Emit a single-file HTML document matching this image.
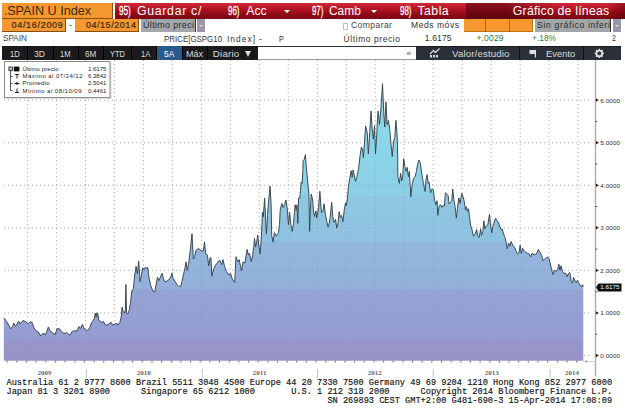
<!DOCTYPE html>
<html><head><meta charset="utf-8"><style>
html,body{margin:0;padding:0;background:#fff;}
body{width:625px;height:411px;overflow:hidden;position:relative;font-family:"Liberation Sans",sans-serif;}
.a{position:absolute;white-space:nowrap;}
.or{background:#f5982f;border-right:1px solid #8a4f10;border-bottom:1px solid #8a4f10;box-sizing:border-box;}
</style></head><body>
<!-- row 1 -->
<div class="a" style="left:115px;top:3px;width:510px;height:15.5px;background:linear-gradient(#cf2a3a 0%,#be1a2a 25%,#a80f1e 50%,#8a0a16 75%,#7a0812 100%);"></div>
<div class="a" style="left:466px;top:3px;width:159px;height:15.5px;background:linear-gradient(90deg,rgba(70,0,6,.55) 0,rgba(70,0,6,.5) 24%,rgba(70,0,6,0) 58%,rgba(70,0,6,0) 88%,rgba(70,0,6,.4) 100%);"></div>
<div class="a or" style="left:2px;top:3px;width:110.5px;height:16.2px;border-bottom-width:1.5px;"></div>
<div class="a" style="left:284px;top:9.5px;width:0;height:0;border-left:3px solid transparent;border-right:3px solid transparent;border-top:3.5px solid #fff;"></div>
<div class="a" style="left:371px;top:9.5px;width:0;height:0;border-left:3px solid transparent;border-right:3px solid transparent;border-top:3.5px solid #fff;"></div>
<!-- row 2 -->
<div class="a or" style="left:2px;top:19px;width:64px;height:13px;"></div>
<div class="a or" style="left:75px;top:19px;width:63.5px;height:13px;"></div>
<div class="a" style="left:141px;top:19.3px;width:54.5px;height:12.6px;background:#a3a6ab;border-right:1.5px solid #333;box-sizing:border-box;"></div>
<div class="a" style="left:197px;top:19.3px;width:8px;height:12.6px;background:#9a98a6;"></div>
<div class="a" style="left:199px;top:24.5px;width:0;height:0;border-left:2px solid transparent;border-right:2px solid transparent;border-top:2.5px solid #ddd;"></div>
<div class="a" style="left:342.5px;top:22.5px;width:3.5px;height:5px;border:1px solid #c4c4c4;"></div>
<div class="a or" style="left:464px;top:19px;width:69px;height:13px;border-color:#c07418;"></div>
<div class="a" style="left:485px;top:19px;width:1px;height:13px;background:#a8620f;"></div>
<div class="a" style="left:509px;top:19px;width:1px;height:13px;background:#a8620f;"></div>
<div class="a" style="left:535px;top:19.3px;width:76px;height:12.6px;background:#a3a6ab;border-right:1.5px solid #333;box-sizing:border-box;"></div>
<div class="a" style="left:612.5px;top:19.3px;width:8px;height:12.6px;background:#9a98a6;"></div>
<div class="a" style="left:614.5px;top:24.5px;width:0;height:0;border-left:2px solid transparent;border-right:2px solid transparent;border-top:2.5px solid #ddd;"></div>
<!-- toolbar -->
<div class="a" style="left:2px;top:46px;width:255.5px;height:14px;background:#1b1b1d;"></div>
<div class="a" style="left:156.5px;top:46px;width:25px;height:14px;background:#2a5a8c;"></div>
<div class="a" style="left:257.5px;top:46px;width:158.5px;height:14px;background:#fff;border-top:1.5px solid #333;border-bottom:1px solid #999;box-sizing:border-box;"></div>
<div class="a" style="left:416px;top:46px;width:205px;height:14px;background:#2b2f37;border-top:1px solid #1a1c20;box-sizing:border-box;"></div>
<div class="a" style="left:406.5px;top:48.5px;font-size:8px;line-height:9px;color:#444;">«</div>
<div class="a" style="left:27px;top:46px;width:1px;height:14px;background:#000;"></div><div class="a" style="left:52.5px;top:46px;width:1px;height:14px;background:#000;"></div><div class="a" style="left:78px;top:46px;width:1px;height:14px;background:#000;"></div><div class="a" style="left:103px;top:46px;width:1px;height:14px;background:#000;"></div><div class="a" style="left:130.5px;top:46px;width:1px;height:14px;background:#000;"></div><div class="a" style="left:156px;top:46px;width:1px;height:14px;background:#000;"></div><div class="a" style="left:181.5px;top:46px;width:1px;height:14px;background:#000;"></div><div class="a" style="left:207px;top:46px;width:1px;height:14px;background:#000;"></div>
<div class="a" style="left:519px;top:46px;width:1px;height:14px;background:#111;"></div>
<div class="a" style="left:583px;top:46px;width:1px;height:14px;background:#111;"></div>
<div class="a" style="left:245px;top:50.5px;width:0;height:0;border-left:3.5px solid transparent;border-right:3.5px solid transparent;border-top:6px solid #dcdcdc;"></div>

<svg class="a" style="left:0;top:0;" width="625" height="411" viewBox="0 0 625 411">
<defs>
<linearGradient id="g" gradientUnits="userSpaceOnUse" x1="0" y1="80" x2="0" y2="361"><stop offset="0.0014" stop-color="#8bd8ea"/><stop offset="0.2370" stop-color="#8bd7e9"/><stop offset="0.2399" stop-color="#8cd4e8"/><stop offset="0.4096" stop-color="#8cd0e6"/><stop offset="0.4125" stop-color="#8ec8e2"/><stop offset="0.5737" stop-color="#8fc1e0"/><stop offset="0.5765" stop-color="#92b7dd"/><stop offset="0.7434" stop-color="#93afda"/><stop offset="0.7463" stop-color="#94a3d5"/><stop offset="0.9203" stop-color="#959cd1"/><stop offset="0.9231" stop-color="#9896cb"/><stop offset="0.9986" stop-color="#9993c9"/></linearGradient>
</defs>
<g stroke="#d8d5c4" stroke-width="1" stroke-dasharray="1.2,2.8" fill="none"><line x1="27.5" y1="60" x2="27.5" y2="361"/><line x1="56.5" y1="60" x2="56.5" y2="361"/><line x1="85.5" y1="60" x2="85.5" y2="361"/><line x1="114.4" y1="60" x2="114.4" y2="361"/><line x1="143.4" y1="60" x2="143.4" y2="361"/><line x1="172.4" y1="60" x2="172.4" y2="361"/><line x1="201.4" y1="60" x2="201.4" y2="361"/><line x1="230.4" y1="60" x2="230.4" y2="361"/><line x1="259.3" y1="60" x2="259.3" y2="361"/><line x1="288.3" y1="60" x2="288.3" y2="361"/><line x1="317.3" y1="60" x2="317.3" y2="361"/><line x1="346.3" y1="60" x2="346.3" y2="361"/><line x1="375.3" y1="60" x2="375.3" y2="361"/><line x1="404.2" y1="60" x2="404.2" y2="361"/><line x1="433.2" y1="60" x2="433.2" y2="361"/><line x1="462.2" y1="60" x2="462.2" y2="361"/><line x1="491.2" y1="60" x2="491.2" y2="361"/><line x1="520.2" y1="60" x2="520.2" y2="361"/><line x1="549.1" y1="60" x2="549.1" y2="361"/><line x1="578.1" y1="60" x2="578.1" y2="361"/><line x1="4" y1="355.5" x2="592" y2="355.5"/><line x1="4" y1="312.9" x2="592" y2="312.9"/><line x1="4" y1="270.4" x2="592" y2="270.4"/><line x1="4" y1="227.8" x2="592" y2="227.8"/><line x1="4" y1="185.3" x2="592" y2="185.3"/><line x1="4" y1="142.7" x2="592" y2="142.7"/><line x1="4" y1="100.1" x2="592" y2="100.1"/></g>
<path d="M3.8,360.8 L3.8,317.9 L6.4,321.1 L9.0,325.6 L10.5,328.8 L12.8,326.2 L13.8,323.0 L15.1,326.2 L16.6,325.0 L18.6,321.1 L19.8,323.7 L21.1,323.0 L23.0,320.5 L25.6,321.8 L28.2,323.7 L30.1,321.8 L32.0,322.4 L33.9,327.5 L35.9,330.7 L38.4,332.0 L40.7,335.9 L42.9,333.3 L45.5,334.6 L48.4,326.9 L49.9,330.7 L52.5,332.7 L55.1,334.6 L57.0,328.8 L59.5,328.8 L61.5,331.4 L64.0,333.5 L66.6,332.7 L69.8,335.2 L72.3,331.4 L74.9,330.7 L77.0,331.2 L79.0,326.5 L80.4,328.5 L82.4,324.5 L83.7,327.8 L85.7,329.8 L87.7,330.5 L89.7,327.8 L91.7,322.5 L93.1,320.5 L94.4,318.4 L95.3,313.1 L96.1,317.1 L96.8,313.1 L97.7,313.1 L98.8,319.8 L100.4,321.8 L102.4,322.5 L103.4,321.1 L105.1,324.5 L107.1,325.1 L109.1,323.8 L110.9,322.2 L112.5,324.9 L115.1,324.1 L116.5,323.1 L117.8,325.1 L119.8,322.5 L121.2,317.1 L122.1,307.1 L123.2,311.8 L124.5,313.1 L125.4,309.7 L125.9,284.5 L126.5,313.1 L127.8,313.8 L129.2,310.4 L130.5,302.4 L131.9,291.0 L133.4,288.5 L134.7,275.1 L136.1,266.4 L137.4,273.8 L138.7,261.1 L140.1,281.8 L141.4,275.1 L142.7,267.8 L144.1,269.8 L145.4,267.1 L146.8,268.4 L147.7,267.1 L149.0,277.8 L150.8,285.8 L152.8,291.0 L154.8,291.5 L156.1,284.5 L157.5,277.1 L158.8,280.5 L160.1,277.8 L162.1,273.1 L163.5,279.1 L164.8,281.8 L166.8,281.2 L168.8,279.8 L170.8,277.1 L171.9,273.1 L172.8,277.8 L174.9,281.2 L176.9,284.5 L178.9,286.5 L180.9,285.8 L182.2,280.5 L183.6,273.8 L184.9,268.4 L186.0,261.8 L187.3,270.5 L188.9,261.8 L190.0,252.5 L192.0,233.7 L193.4,259.1 L194.7,256.5 L196.0,250.5 L198.0,248.4 L200.0,249.8 L202.0,251.1 L203.4,250.5 L204.5,241.8 L205.7,253.8 L207.4,255.1 L208.7,265.8 L210.1,257.8 L211.0,257.8 L211.8,276.2 L213.8,268.4 L216.7,263.5 L219.6,260.1 L221.6,264.5 L223.0,259.6 L224.5,266.4 L226.4,271.3 L228.9,275.2 L230.5,273.2 L232.3,279.1 L234.7,282.5 L236.0,256.7 L237.6,262.0 L239.1,259.6 L241.5,270.8 L243.0,262.0 L244.9,263.0 L247.1,249.4 L248.3,254.7 L249.3,253.3 L251.3,261.6 L252.7,254.7 L253.7,247.1 L254.5,238.4 L255.6,247.1 L256.9,240.4 L257.8,235.1 L258.7,244.8 L260.1,254.1 L261.4,236.8 L262.4,212.5 L263.3,216.8 L264.6,198.1 L266.4,234.1 L267.5,215.5 L269.0,196.8 L270.0,186.1 L271.1,203.4 L271.7,235.4 L273.1,242.1 L274.4,232.7 L276.4,236.1 L278.4,232.7 L279.5,224.7 L280.2,210.1 L281.8,203.4 L283.1,207.5 L284.4,204.8 L286.0,200.1 L287.4,210.1 L288.4,224.7 L289.6,212.5 L290.9,224.7 L292.2,231.4 L293.5,223.4 L294.4,212.7 L295.1,204.8 L296.2,210.1 L297.0,204.8 L297.8,223.4 L298.6,198.0 L299.8,198.1 L301.2,182.0 L302.1,183.4 L302.9,170.0 L303.1,160.6 L304.1,159.6 L305.4,154.7 L306.1,164.5 L307.0,174.2 L308.0,185.0 L309.0,195.4 L309.6,231.4 L310.3,212.0 L311.2,194.1 L312.5,198.8 L313.6,212.0 L314.5,216.5 L315.9,211.0 L316.8,218.0 L318.5,207.5 L319.9,191.4 L320.6,202.0 L321.5,212.5 L322.9,211.6 L324.1,203.8 L325.4,214.5 L326.8,221.3 L328.0,227.1 L329.3,223.2 L330.2,217.4 L331.7,202.3 L332.7,216.4 L334.1,222.3 L335.6,219.3 L336.7,228.1 L338.0,223.2 L339.2,211.6 L340.4,217.4 L341.6,215.4 L342.9,221.8 L344.3,209.6 L345.5,202.8 L346.3,205.7 L347.3,199.9 L348.4,186.8 L349.7,178.7 L351.1,170.7 L352.2,177.4 L353.1,170.0 L354.2,174.7 L355.5,181.4 L357.1,176.1 L358.4,169.4 L359.4,162.0 L360.1,155.1 L361.4,147.1 L362.7,149.8 L363.4,157.8 L364.7,139.1 L365.6,126.0 L367.2,132.4 L368.4,153.8 L369.7,132.4 L371.0,111.1 L372.1,128.4 L373.4,139.1 L374.5,125.7 L375.5,153.8 L376.8,133.7 L377.5,119.1 L378.1,111.1 L379.5,124.5 L380.8,109.8 L382.5,83.7 L383.9,115.1 L384.8,127.0 L385.9,101.8 L387.1,124.5 L388.4,120.5 L389.8,129.7 L390.8,141.8 L392.2,156.5 L393.5,141.8 L394.8,137.7 L395.9,120.4 L396.9,132.4 L397.5,144.4 L397.9,176.8 L399.3,183.4 L400.6,173.4 L401.7,180.8 L402.6,178.1 L403.7,158.7 L405.0,167.4 L406.1,171.4 L407.3,167.4 L408.4,176.8 L409.4,171.4 L410.8,196.8 L412.1,184.8 L413.7,178.1 L415.1,176.8 L416.4,171.4 L417.7,163.4 L419.1,160.0 L420.4,163.4 L421.8,174.1 L423.4,183.4 L425.1,191.5 L426.0,179.4 L427.1,174.7 L428.2,183.4 L429.1,182.1 L430.5,192.8 L432.2,188.8 L433.3,190.0 L434.7,200.7 L436.0,204.7 L437.0,200.7 L437.8,215.4 L439.1,206.1 L440.7,204.7 L442.0,207.4 L443.4,205.4 L444.4,206.1 L445.4,192.7 L446.7,194.0 L448.1,195.4 L449.0,204.0 L450.7,202.0 L451.8,200.7 L452.7,189.0 L453.8,199.4 L455.2,207.4 L456.4,218.1 L457.4,208.7 L458.8,198.0 L460.1,203.4 L461.7,193.3 L462.8,196.0 L464.1,200.7 L465.5,210.1 L466.4,206.7 L467.5,211.4 L468.5,208.7 L469.5,216.8 L470.8,226.1 L472.1,230.1 L473.5,236.2 L475.2,234.1 L476.6,229.5 L477.9,236.2 L479.2,237.5 L480.6,228.8 L481.5,235.5 L482.8,231.5 L483.9,220.8 L484.8,228.8 L486.2,226.1 L487.8,224.8 L489.5,214.1 L490.5,224.8 L491.8,232.8 L492.9,226.1 L494.2,222.1 L495.6,218.1 L496.9,220.8 L498.2,222.1 L499.6,226.1 L500.9,229.5 L502.2,228.8 L503.6,234.1 L504.6,236.5 L505.8,240.8 L507.3,248.9 L508.5,243.0 L509.9,246.0 L511.0,241.6 L512.9,245.2 L514.6,247.4 L516.1,251.1 L517.8,254.0 L519.0,252.5 L520.2,245.2 L521.2,253.3 L522.6,248.2 L524.1,251.1 L526.0,252.5 L527.8,253.3 L529.2,254.0 L530.7,256.9 L532.1,253.3 L534.3,254.7 L536.5,254.0 L538.3,249.6 L540.2,252.5 L541.6,255.5 L543.1,260.6 L545.3,258.4 L547.5,256.9 L548.9,258.4 L550.4,264.2 L551.9,270.8 L552.9,274.5 L554.4,270.1 L556.3,271.5 L557.7,269.3 L558.9,264.2 L559.9,270.1 L561.1,265.7 L562.5,271.5 L564.0,273.7 L565.5,273.0 L566.9,276.6 L568.4,273.7 L569.8,272.3 L571.3,281.8 L572.6,283.2 L573.5,277.4 L574.8,280.3 L576.3,282.5 L577.4,280.3 L578.9,283.2 L581.1,286.9 L582.6,284.7 L583.3,286.9 L583.3,360.8 Z" fill="url(#g)"/>
<g stroke="#7f86b8" stroke-opacity=".4" stroke-width="1" stroke-dasharray="1.2,2.8" fill="none"><line x1="27.5" y1="60" x2="27.5" y2="361"/><line x1="56.5" y1="60" x2="56.5" y2="361"/><line x1="85.5" y1="60" x2="85.5" y2="361"/><line x1="114.4" y1="60" x2="114.4" y2="361"/><line x1="143.4" y1="60" x2="143.4" y2="361"/><line x1="172.4" y1="60" x2="172.4" y2="361"/><line x1="201.4" y1="60" x2="201.4" y2="361"/><line x1="230.4" y1="60" x2="230.4" y2="361"/><line x1="259.3" y1="60" x2="259.3" y2="361"/><line x1="288.3" y1="60" x2="288.3" y2="361"/><line x1="317.3" y1="60" x2="317.3" y2="361"/><line x1="346.3" y1="60" x2="346.3" y2="361"/><line x1="375.3" y1="60" x2="375.3" y2="361"/><line x1="404.2" y1="60" x2="404.2" y2="361"/><line x1="433.2" y1="60" x2="433.2" y2="361"/><line x1="462.2" y1="60" x2="462.2" y2="361"/><line x1="491.2" y1="60" x2="491.2" y2="361"/><line x1="520.2" y1="60" x2="520.2" y2="361"/><line x1="549.1" y1="60" x2="549.1" y2="361"/><line x1="578.1" y1="60" x2="578.1" y2="361"/><line x1="4" y1="355.5" x2="592" y2="355.5"/><line x1="4" y1="312.9" x2="592" y2="312.9"/><line x1="4" y1="270.4" x2="592" y2="270.4"/><line x1="4" y1="227.8" x2="592" y2="227.8"/><line x1="4" y1="185.3" x2="592" y2="185.3"/><line x1="4" y1="142.7" x2="592" y2="142.7"/><line x1="4" y1="100.1" x2="592" y2="100.1"/></g>
<polyline points="3.8,317.9 6.4,321.1 9.0,325.6 10.5,328.8 12.8,326.2 13.8,323.0 15.1,326.2 16.6,325.0 18.6,321.1 19.8,323.7 21.1,323.0 23.0,320.5 25.6,321.8 28.2,323.7 30.1,321.8 32.0,322.4 33.9,327.5 35.9,330.7 38.4,332.0 40.7,335.9 42.9,333.3 45.5,334.6 48.4,326.9 49.9,330.7 52.5,332.7 55.1,334.6 57.0,328.8 59.5,328.8 61.5,331.4 64.0,333.5 66.6,332.7 69.8,335.2 72.3,331.4 74.9,330.7 77.0,331.2 79.0,326.5 80.4,328.5 82.4,324.5 83.7,327.8 85.7,329.8 87.7,330.5 89.7,327.8 91.7,322.5 93.1,320.5 94.4,318.4 95.3,313.1 96.1,317.1 96.8,313.1 97.7,313.1 98.8,319.8 100.4,321.8 102.4,322.5 103.4,321.1 105.1,324.5 107.1,325.1 109.1,323.8 110.9,322.2 112.5,324.9 115.1,324.1 116.5,323.1 117.8,325.1 119.8,322.5 121.2,317.1 122.1,307.1 123.2,311.8 124.5,313.1 125.4,309.7 125.9,284.5 126.5,313.1 127.8,313.8 129.2,310.4 130.5,302.4 131.9,291.0 133.4,288.5 134.7,275.1 136.1,266.4 137.4,273.8 138.7,261.1 140.1,281.8 141.4,275.1 142.7,267.8 144.1,269.8 145.4,267.1 146.8,268.4 147.7,267.1 149.0,277.8 150.8,285.8 152.8,291.0 154.8,291.5 156.1,284.5 157.5,277.1 158.8,280.5 160.1,277.8 162.1,273.1 163.5,279.1 164.8,281.8 166.8,281.2 168.8,279.8 170.8,277.1 171.9,273.1 172.8,277.8 174.9,281.2 176.9,284.5 178.9,286.5 180.9,285.8 182.2,280.5 183.6,273.8 184.9,268.4 186.0,261.8 187.3,270.5 188.9,261.8 190.0,252.5 192.0,233.7 193.4,259.1 194.7,256.5 196.0,250.5 198.0,248.4 200.0,249.8 202.0,251.1 203.4,250.5 204.5,241.8 205.7,253.8 207.4,255.1 208.7,265.8 210.1,257.8 211.0,257.8 211.8,276.2 213.8,268.4 216.7,263.5 219.6,260.1 221.6,264.5 223.0,259.6 224.5,266.4 226.4,271.3 228.9,275.2 230.5,273.2 232.3,279.1 234.7,282.5 236.0,256.7 237.6,262.0 239.1,259.6 241.5,270.8 243.0,262.0 244.9,263.0 247.1,249.4 248.3,254.7 249.3,253.3 251.3,261.6 252.7,254.7 253.7,247.1 254.5,238.4 255.6,247.1 256.9,240.4 257.8,235.1 258.7,244.8 260.1,254.1 261.4,236.8 262.4,212.5 263.3,216.8 264.6,198.1 266.4,234.1 267.5,215.5 269.0,196.8 270.0,186.1 271.1,203.4 271.7,235.4 273.1,242.1 274.4,232.7 276.4,236.1 278.4,232.7 279.5,224.7 280.2,210.1 281.8,203.4 283.1,207.5 284.4,204.8 286.0,200.1 287.4,210.1 288.4,224.7 289.6,212.5 290.9,224.7 292.2,231.4 293.5,223.4 294.4,212.7 295.1,204.8 296.2,210.1 297.0,204.8 297.8,223.4 298.6,198.0 299.8,198.1 301.2,182.0 302.1,183.4 302.9,170.0 303.1,160.6 304.1,159.6 305.4,154.7 306.1,164.5 307.0,174.2 308.0,185.0 309.0,195.4 309.6,231.4 310.3,212.0 311.2,194.1 312.5,198.8 313.6,212.0 314.5,216.5 315.9,211.0 316.8,218.0 318.5,207.5 319.9,191.4 320.6,202.0 321.5,212.5 322.9,211.6 324.1,203.8 325.4,214.5 326.8,221.3 328.0,227.1 329.3,223.2 330.2,217.4 331.7,202.3 332.7,216.4 334.1,222.3 335.6,219.3 336.7,228.1 338.0,223.2 339.2,211.6 340.4,217.4 341.6,215.4 342.9,221.8 344.3,209.6 345.5,202.8 346.3,205.7 347.3,199.9 348.4,186.8 349.7,178.7 351.1,170.7 352.2,177.4 353.1,170.0 354.2,174.7 355.5,181.4 357.1,176.1 358.4,169.4 359.4,162.0 360.1,155.1 361.4,147.1 362.7,149.8 363.4,157.8 364.7,139.1 365.6,126.0 367.2,132.4 368.4,153.8 369.7,132.4 371.0,111.1 372.1,128.4 373.4,139.1 374.5,125.7 375.5,153.8 376.8,133.7 377.5,119.1 378.1,111.1 379.5,124.5 380.8,109.8 382.5,83.7 383.9,115.1 384.8,127.0 385.9,101.8 387.1,124.5 388.4,120.5 389.8,129.7 390.8,141.8 392.2,156.5 393.5,141.8 394.8,137.7 395.9,120.4 396.9,132.4 397.5,144.4 397.9,176.8 399.3,183.4 400.6,173.4 401.7,180.8 402.6,178.1 403.7,158.7 405.0,167.4 406.1,171.4 407.3,167.4 408.4,176.8 409.4,171.4 410.8,196.8 412.1,184.8 413.7,178.1 415.1,176.8 416.4,171.4 417.7,163.4 419.1,160.0 420.4,163.4 421.8,174.1 423.4,183.4 425.1,191.5 426.0,179.4 427.1,174.7 428.2,183.4 429.1,182.1 430.5,192.8 432.2,188.8 433.3,190.0 434.7,200.7 436.0,204.7 437.0,200.7 437.8,215.4 439.1,206.1 440.7,204.7 442.0,207.4 443.4,205.4 444.4,206.1 445.4,192.7 446.7,194.0 448.1,195.4 449.0,204.0 450.7,202.0 451.8,200.7 452.7,189.0 453.8,199.4 455.2,207.4 456.4,218.1 457.4,208.7 458.8,198.0 460.1,203.4 461.7,193.3 462.8,196.0 464.1,200.7 465.5,210.1 466.4,206.7 467.5,211.4 468.5,208.7 469.5,216.8 470.8,226.1 472.1,230.1 473.5,236.2 475.2,234.1 476.6,229.5 477.9,236.2 479.2,237.5 480.6,228.8 481.5,235.5 482.8,231.5 483.9,220.8 484.8,228.8 486.2,226.1 487.8,224.8 489.5,214.1 490.5,224.8 491.8,232.8 492.9,226.1 494.2,222.1 495.6,218.1 496.9,220.8 498.2,222.1 499.6,226.1 500.9,229.5 502.2,228.8 503.6,234.1 504.6,236.5 505.8,240.8 507.3,248.9 508.5,243.0 509.9,246.0 511.0,241.6 512.9,245.2 514.6,247.4 516.1,251.1 517.8,254.0 519.0,252.5 520.2,245.2 521.2,253.3 522.6,248.2 524.1,251.1 526.0,252.5 527.8,253.3 529.2,254.0 530.7,256.9 532.1,253.3 534.3,254.7 536.5,254.0 538.3,249.6 540.2,252.5 541.6,255.5 543.1,260.6 545.3,258.4 547.5,256.9 548.9,258.4 550.4,264.2 551.9,270.8 552.9,274.5 554.4,270.1 556.3,271.5 557.7,269.3 558.9,264.2 559.9,270.1 561.1,265.7 562.5,271.5 564.0,273.7 565.5,273.0 566.9,276.6 568.4,273.7 569.8,272.3 571.3,281.8 572.6,283.2 573.5,277.4 574.8,280.3 576.3,282.5 577.4,280.3 578.9,283.2 581.1,286.9 582.6,284.7 583.3,286.9" fill="none" stroke="#35424b" stroke-width="0.95" stroke-linejoin="round"/>
<line x1="595.5" y1="60" x2="595.5" y2="376" stroke="#b0b0b0" stroke-width="1.5"/>
<line x1="583" y1="361.5" x2="596" y2="361.5" stroke="#d0d0d0" stroke-width="1"/>
<g stroke="#7880ac" stroke-width="1.2"><line x1="7.2" y1="360.5" x2="7.2" y2="362.6"/><line x1="16.9" y1="360.5" x2="16.9" y2="362.6"/><line x1="26.5" y1="360.5" x2="26.5" y2="362.6"/><line x1="36.2" y1="360.5" x2="36.2" y2="362.6"/><line x1="45.8" y1="360.5" x2="45.8" y2="362.6"/><line x1="55.5" y1="360.5" x2="55.5" y2="362.6"/><line x1="65.1" y1="360.5" x2="65.1" y2="362.6"/><line x1="74.8" y1="360.5" x2="74.8" y2="362.6"/><line x1="84.4" y1="360.5" x2="84.4" y2="362.6"/><line x1="94.1" y1="360.5" x2="94.1" y2="362.6"/><line x1="103.7" y1="360.5" x2="103.7" y2="362.6"/><line x1="113.4" y1="360.5" x2="113.4" y2="362.6"/><line x1="123.0" y1="360.5" x2="123.0" y2="362.6"/><line x1="132.7" y1="360.5" x2="132.7" y2="362.6"/><line x1="142.3" y1="360.5" x2="142.3" y2="362.6"/><line x1="152.0" y1="360.5" x2="152.0" y2="362.6"/><line x1="161.6" y1="360.5" x2="161.6" y2="362.6"/><line x1="171.3" y1="360.5" x2="171.3" y2="362.6"/><line x1="180.9" y1="360.5" x2="180.9" y2="362.6"/><line x1="190.6" y1="360.5" x2="190.6" y2="362.6"/><line x1="200.2" y1="360.5" x2="200.2" y2="362.6"/><line x1="209.9" y1="360.5" x2="209.9" y2="362.6"/><line x1="219.5" y1="360.5" x2="219.5" y2="362.6"/><line x1="229.2" y1="360.5" x2="229.2" y2="362.6"/><line x1="238.8" y1="360.5" x2="238.8" y2="362.6"/><line x1="248.5" y1="360.5" x2="248.5" y2="362.6"/><line x1="258.1" y1="360.5" x2="258.1" y2="362.6"/><line x1="267.8" y1="360.5" x2="267.8" y2="362.6"/><line x1="277.4" y1="360.5" x2="277.4" y2="362.6"/><line x1="287.1" y1="360.5" x2="287.1" y2="362.6"/><line x1="296.7" y1="360.5" x2="296.7" y2="362.6"/><line x1="306.4" y1="360.5" x2="306.4" y2="362.6"/><line x1="316.0" y1="360.5" x2="316.0" y2="362.6"/><line x1="325.7" y1="360.5" x2="325.7" y2="362.6"/><line x1="335.3" y1="360.5" x2="335.3" y2="362.6"/><line x1="345.0" y1="360.5" x2="345.0" y2="362.6"/><line x1="354.6" y1="360.5" x2="354.6" y2="362.6"/><line x1="364.3" y1="360.5" x2="364.3" y2="362.6"/><line x1="373.9" y1="360.5" x2="373.9" y2="362.6"/><line x1="383.6" y1="360.5" x2="383.6" y2="362.6"/><line x1="393.2" y1="360.5" x2="393.2" y2="362.6"/><line x1="402.9" y1="360.5" x2="402.9" y2="362.6"/><line x1="412.5" y1="360.5" x2="412.5" y2="362.6"/><line x1="422.2" y1="360.5" x2="422.2" y2="362.6"/><line x1="431.8" y1="360.5" x2="431.8" y2="362.6"/><line x1="441.5" y1="360.5" x2="441.5" y2="362.6"/><line x1="451.1" y1="360.5" x2="451.1" y2="362.6"/><line x1="460.8" y1="360.5" x2="460.8" y2="362.6"/><line x1="470.4" y1="360.5" x2="470.4" y2="362.6"/><line x1="480.1" y1="360.5" x2="480.1" y2="362.6"/><line x1="489.7" y1="360.5" x2="489.7" y2="362.6"/><line x1="499.4" y1="360.5" x2="499.4" y2="362.6"/><line x1="509.0" y1="360.5" x2="509.0" y2="362.6"/><line x1="518.7" y1="360.5" x2="518.7" y2="362.6"/><line x1="528.3" y1="360.5" x2="528.3" y2="362.6"/><line x1="538.0" y1="360.5" x2="538.0" y2="362.6"/><line x1="547.6" y1="360.5" x2="547.6" y2="362.6"/><line x1="557.3" y1="360.5" x2="557.3" y2="362.6"/><line x1="566.9" y1="360.5" x2="566.9" y2="362.6"/><line x1="576.6" y1="360.5" x2="576.6" y2="362.6"/><line x1="586.2" y1="360.5" x2="586.2" y2="362.6"/></g>
<g stroke="#c2c2c2" stroke-width="1"><line x1="86.4" y1="369" x2="86.4" y2="378"/><line x1="202.3" y1="369" x2="202.3" y2="378"/><line x1="317.6" y1="369" x2="317.6" y2="378"/><line x1="433.2" y1="369" x2="433.2" y2="378"/><line x1="550" y1="369" x2="550" y2="378"/></g>
<path d="M595.8 353.8 L599 355.5 L595.8 357.2 Z" fill="#222"/><path d="M595.8 311.2 L599 312.9 L595.8 314.6 Z" fill="#222"/><path d="M595.8 268.7 L599 270.4 L595.8 272.1 Z" fill="#222"/><path d="M595.8 226.1 L599 227.8 L595.8 229.5 Z" fill="#222"/><path d="M595.8 183.6 L599 185.3 L595.8 187.0 Z" fill="#222"/><path d="M595.8 141.0 L599 142.7 L595.8 144.4 Z" fill="#222"/><path d="M595.8 98.4 L599 100.1 L595.8 101.8 Z" fill="#222"/><rect x="595" y="333.7" width="2.5" height="1" fill="#666"/><rect x="595" y="291.2" width="2.5" height="1" fill="#666"/><rect x="595" y="248.6" width="2.5" height="1" fill="#666"/><rect x="595" y="206.0" width="2.5" height="1" fill="#666"/><rect x="595" y="163.5" width="2.5" height="1" fill="#666"/><rect x="595" y="120.9" width="2.5" height="1" fill="#666"/>
<path d="M596 287.3 L598.5 283.4 H621.5 V291.4 H598.5 Z" fill="#101010"/>
<!-- legend -->
<rect x="5.5" y="63" width="106" height="36" fill="#ddd"/>
<rect x="4.5" y="61.5" width="105.5" height="36" fill="#fff" stroke="#8a8a8a" stroke-width="1"/>
<rect x="13.8" y="66.6" width="5.6" height="4.8" fill="#111"/>
<rect x="8.9" y="67" width="3.6" height="3.6" fill="#bbb" stroke="#444" stroke-width="1"/>
<path d="M10.5 71 V90.5 H12.5 M10.5 76.5 H12.5 M10.5 83.5 H12.5" stroke="#555" fill="none" stroke-width="1"/>
<path d="M15.3 74.5h3.6M17 74.5v4 M14.3 83.5h5.2 M15 92.5h4M17 92.5v-4" stroke="#222" fill="none" stroke-width="1"/><circle cx="17" cy="83.5" r="1.2" fill="#222"/>
<!-- toolbar icons -->
<g fill="#d8d8d8" stroke="none"><rect x="430" y="55" width="2" height="2.5"/><rect x="433" y="55" width="2" height="2.5"/><rect x="436" y="55" width="2" height="2.5"/></g>
<path d="M430 54 L433.5 50.5 L435.5 52.5 L439.5 48.5" stroke="#d8d8d8" stroke-width="1.3" fill="none"/>
<path d="M529.5 50 H536 V57.5 H534.8 V54 H529.5 Z" fill="#e0e0e0"/>
<g transform="translate(599.3,53.4)"><circle r="2.9" fill="none" stroke="#e0e0e0" stroke-width="1.7"/><g stroke="#e0e0e0" stroke-width="1.5"><line x1="0" y1="-4.6" x2="0" y2="4.6"/><line x1="-4.6" y1="0" x2="4.6" y2="0"/><line x1="-3.3" y1="-3.3" x2="3.3" y2="3.3"/><line x1="-3.3" y1="3.3" x2="3.3" y2="-3.3"/></g><circle r="1.9" fill="#2b2f37"/></g>
</svg>
<div id="t0" class="a" style="left:3.7px;top:3.97px;font-size:12.6px;line-height:15.12px;color:#3a2a10;letter-spacing:0.003px;">.SPAIN U Index</div>
<div id="t1" class="a" style="left:119.4px;top:4.36px;font-size:12.3px;line-height:14.76px;color:#fff;letter-spacing:0.000px;transform:scaleX(0.6636);transform-origin:0 0;-webkit-text-stroke:0.3px #fff;">95)</div>
<div id="t2" class="a" style="left:137.0px;top:4.36px;font-size:12.3px;line-height:14.76px;color:#fff;letter-spacing:0.690px;">Guardar c/</div>
<div id="t3" class="a" style="left:228.2px;top:4.36px;font-size:12.3px;line-height:14.76px;color:#fff;letter-spacing:0.000px;transform:scaleX(0.6467);transform-origin:0 0;-webkit-text-stroke:0.3px #fff;">96)</div>
<div id="t4" class="a" style="left:246.2px;top:4.36px;font-size:12.3px;line-height:14.76px;color:#fff;letter-spacing:0.000px;">Acc</div>
<div id="t5" class="a" style="left:312.3px;top:4.36px;font-size:12.3px;line-height:14.76px;color:#fff;letter-spacing:0.000px;transform:scaleX(0.6355);transform-origin:0 0;-webkit-text-stroke:0.3px #fff;">97)</div>
<div id="t6" class="a" style="left:329.0px;top:4.36px;font-size:12.3px;line-height:14.76px;color:#fff;letter-spacing:0.000px;transform:scaleX(0.9691);transform-origin:0 0;">Camb</div>
<div id="t7" class="a" style="left:400.0px;top:4.36px;font-size:12.3px;line-height:14.76px;color:#fff;letter-spacing:0.000px;transform:scaleX(0.6467);transform-origin:0 0;-webkit-text-stroke:0.3px #fff;">98)</div>
<div id="t8" class="a" style="left:417.4px;top:4.36px;font-size:12.3px;line-height:14.76px;color:#fff;letter-spacing:0.473px;">Tabla</div>
<div id="t9" class="a" style="left:512.8px;top:4.36px;font-size:12.3px;line-height:14.76px;color:#fff;letter-spacing:0.214px;">Gráfico de líneas</div>
<div id="t10" class="a" style="left:11.5px;top:19.88px;font-size:9px;line-height:10.8px;color:#3a2a10;letter-spacing:0.695px;-webkit-text-stroke:0.2px #3a2a10;">04/16/2009</div>
<div id="t11" class="a" style="left:69.0px;top:19.88px;font-size:9px;line-height:10.8px;color:#333;letter-spacing:0.000px;">-</div>
<div id="t12" class="a" style="left:85.9px;top:19.88px;font-size:9px;line-height:10.8px;color:#3a2a10;letter-spacing:0.550px;-webkit-text-stroke:0.2px #3a2a10;">04/15/2014</div>
<div id="t13" class="a" style="left:143.0px;top:20.08px;font-size:9px;line-height:10.8px;color:#2a2a2a;letter-spacing:0.317px;">Último preci</div>
<div id="t14" class="a" style="left:351.0px;top:20.26px;font-size:8.6px;line-height:10.32px;color:#444;letter-spacing:0.397px;">Comparar</div>
<div id="t15" class="a" style="left:411.0px;top:20.26px;font-size:8.6px;line-height:10.32px;color:#333;letter-spacing:0.508px;">Meds móvs</div>
<div id="t16" class="a" style="left:537.0px;top:20.46px;font-size:8.6px;line-height:10.32px;color:#2a2a2a;letter-spacing:0.669px;">Sin gráfico inferi</div>
<div id="t17" class="a" style="left:3.0px;top:32.85px;font-size:8.4px;line-height:10.08px;color:#3a3f48;letter-spacing:0.000px;transform:scaleX(0.9790);transform-origin:0 0;">SPAIN</div>
<div id="t18" class="a" style="left:164.2px;top:33.55px;font-size:8.4px;line-height:10.08px;color:#333;letter-spacing:0.000px;transform:scaleX(0.9454);transform-origin:0 0;">PRICE[GSPG10</div>
<div id="t19" class="a" style="left:226.9px;top:33.55px;font-size:8.4px;line-height:10.08px;color:#333;letter-spacing:1.074px;">Index]</div>
<div id="t20" class="a" style="left:259.0px;top:33.55px;font-size:8.4px;line-height:10.08px;color:#333;letter-spacing:0.000px;">-</div>
<div id="t21" class="a" style="left:279.0px;top:33.55px;font-size:8.4px;line-height:10.08px;color:#333;letter-spacing:0.000px;transform:scaleX(0.8581);transform-origin:0 0;">P</div>
<div id="t22" class="a" style="left:343.6px;top:33.55px;font-size:8.4px;line-height:10.08px;color:#333;letter-spacing:0.627px;">Último precio</div>
<div id="t23" class="a" style="left:424.8px;top:33.36px;font-size:8.6px;line-height:10.32px;color:#333;letter-spacing:0.101px;">1.6175</div>
<div id="t24" class="a" style="left:476.4px;top:33.36px;font-size:8.6px;line-height:10.32px;color:#2f7d3a;letter-spacing:0.134px;">+.0029</div>
<div id="t25" class="a" style="left:531.9px;top:33.36px;font-size:8.6px;line-height:10.32px;color:#2f7d3a;letter-spacing:0.000px;transform:scaleX(0.9752);transform-origin:0 0;">+.18%</div>
<div id="t26" class="a" style="left:611.5px;top:33.36px;font-size:8.6px;line-height:10.32px;color:#333;letter-spacing:0.000px;transform:scaleX(0.8157);transform-origin:0 0;">2</div>
<div id="t27" class="a" style="left:10.0px;top:47.92px;font-size:9.7px;line-height:11.64px;color:#dcdcdc;letter-spacing:0.000px;transform:scaleX(0.7909);transform-origin:0 0;">1D</div>
<div id="t28" class="a" style="left:34.4px;top:47.92px;font-size:9.7px;line-height:11.64px;color:#dcdcdc;letter-spacing:0.000px;transform:scaleX(0.8878);transform-origin:0 0;">3D</div>
<div id="t29" class="a" style="left:60.4px;top:47.92px;font-size:9.7px;line-height:11.64px;color:#dcdcdc;letter-spacing:0.000px;transform:scaleX(0.7722);transform-origin:0 0;">1M</div>
<div id="t30" class="a" style="left:85.0px;top:47.92px;font-size:9.7px;line-height:11.64px;color:#dcdcdc;letter-spacing:0.000px;transform:scaleX(0.8390);transform-origin:0 0;">6M</div>
<div id="t31" class="a" style="left:110.0px;top:47.92px;font-size:9.7px;line-height:11.64px;color:#dcdcdc;letter-spacing:0.000px;transform:scaleX(0.7742);transform-origin:0 0;">YTD</div>
<div id="t32" class="a" style="left:141.0px;top:47.92px;font-size:9.7px;line-height:11.64px;color:#dcdcdc;letter-spacing:0.000px;transform:scaleX(0.7842);transform-origin:0 0;">1A</div>
<div id="t33" class="a" style="left:163.6px;top:47.92px;font-size:9.7px;line-height:11.64px;color:#fff;letter-spacing:0.000px;transform:scaleX(0.8601);transform-origin:0 0;">5A</div>
<div id="t34" class="a" style="left:186.2px;top:47.92px;font-size:9.7px;line-height:11.64px;color:#dcdcdc;letter-spacing:0.000px;transform:scaleX(0.9338);transform-origin:0 0;">Máx</div>
<div id="t35" class="a" style="left:212.8px;top:47.92px;font-size:9.7px;line-height:11.64px;color:#dcdcdc;letter-spacing:0.217px;">Diario</div>
<div id="t36" class="a" style="left:452.0px;top:47.92px;font-size:9.7px;line-height:11.64px;color:#dcdcdc;letter-spacing:0.139px;">Valor/estudio</div>
<div id="t37" class="a" style="left:545.7px;top:47.92px;font-size:9.7px;line-height:11.64px;color:#dcdcdc;letter-spacing:0.000px;transform:scaleX(0.9711);transform-origin:0 0;">Evento</div>
<div id="t38" class="a" style="left:600.3px;top:351.93px;font-size:6.2px;line-height:7.44px;color:#2a2a2a;letter-spacing:0.153px;">0.0000</div>
<div id="t39" class="a" style="left:600.3px;top:309.37px;font-size:6.2px;line-height:7.44px;color:#2a2a2a;letter-spacing:0.153px;">1.0000</div>
<div id="t40" class="a" style="left:600.3px;top:266.81px;font-size:6.2px;line-height:7.44px;color:#2a2a2a;letter-spacing:0.153px;">2.0000</div>
<div id="t41" class="a" style="left:600.3px;top:224.25px;font-size:6.2px;line-height:7.44px;color:#2a2a2a;letter-spacing:0.153px;">3.0000</div>
<div id="t42" class="a" style="left:600.3px;top:181.69px;font-size:6.2px;line-height:7.44px;color:#2a2a2a;letter-spacing:0.153px;">4.0000</div>
<div id="t43" class="a" style="left:600.3px;top:139.13px;font-size:6.2px;line-height:7.44px;color:#2a2a2a;letter-spacing:0.153px;">5.0000</div>
<div id="t44" class="a" style="left:600.3px;top:96.57px;font-size:6.2px;line-height:7.44px;color:#2a2a2a;letter-spacing:0.153px;">6.0000</div>
<div id="t45" class="a" style="left:600.3px;top:283.09px;font-size:6.2px;line-height:7.44px;color:#fff;letter-spacing:0.053px;">1.6175</div>
<div id="t46" class="a" style="left:37.4px;top:368.57px;font-size:7px;line-height:8.4px;color:#666;letter-spacing:0.000px;font-family:'Liberation Serif',serif;font-weight:bold;">2009</div>
<div id="t47" class="a" style="left:136.8px;top:368.57px;font-size:7px;line-height:8.4px;color:#666;letter-spacing:0.000px;font-family:'Liberation Serif',serif;font-weight:bold;">2010</div>
<div id="t48" class="a" style="left:252.5px;top:368.57px;font-size:7px;line-height:8.4px;color:#666;letter-spacing:0.125px;font-family:'Liberation Serif',serif;font-weight:bold;">2011</div>
<div id="t49" class="a" style="left:367.7px;top:368.57px;font-size:7px;line-height:8.4px;color:#666;letter-spacing:0.000px;font-family:'Liberation Serif',serif;font-weight:bold;">2012</div>
<div id="t50" class="a" style="left:484.7px;top:368.57px;font-size:7px;line-height:8.4px;color:#666;letter-spacing:0.000px;font-family:'Liberation Serif',serif;font-weight:bold;">2013</div>
<div id="t51" class="a" style="left:565.0px;top:368.57px;font-size:7px;line-height:8.4px;color:#666;letter-spacing:0.000px;font-family:'Liberation Serif',serif;font-weight:bold;">2014</div>
<div id="t52" class="a" style="left:22.5px;top:65.52px;font-size:6px;line-height:7.2px;color:#262626;letter-spacing:0.082px;">Último precio</div>
<div id="t53" class="a" style="left:87.5px;top:65.52px;font-size:6px;line-height:7.2px;color:#262626;letter-spacing:0.000px;transform:scaleX(0.9968);transform-origin:0 0;">1.6175</div>
<div id="t54" class="a" style="left:22.5px;top:73.12px;font-size:6px;line-height:7.2px;color:#262626;letter-spacing:0.449px;">Máximo al 07/24/12</div>
<div id="t55" class="a" style="left:87.5px;top:73.12px;font-size:6px;line-height:7.2px;color:#262626;letter-spacing:0.000px;transform:scaleX(0.9968);transform-origin:0 0;">6.3842</div>
<div id="t56" class="a" style="left:22.5px;top:80.12px;font-size:6px;line-height:7.2px;color:#262626;letter-spacing:0.188px;">Promedio</div>
<div id="t57" class="a" style="left:87.5px;top:80.12px;font-size:6px;line-height:7.2px;color:#262626;letter-spacing:0.000px;transform:scaleX(0.9968);transform-origin:0 0;">2.5041</div>
<div id="t58" class="a" style="left:22.5px;top:87.72px;font-size:6px;line-height:7.2px;color:#262626;letter-spacing:0.469px;">Mínimo al 08/10/09</div>
<div id="t59" class="a" style="left:87.5px;top:87.72px;font-size:6px;line-height:7.2px;color:#262626;letter-spacing:0.000px;transform:scaleX(0.9968);transform-origin:0 0;">0.4461</div>

<div class="a" style="left:6.5px;top:378.9px;font-family:'Liberation Mono',monospace;font-size:8.63px;line-height:9px;color:#111;-webkit-text-stroke:0.15px #111;white-space:pre;">Australia 61 2 9777 8600 Brazil 5511 3048 4500 Europe 44 20 7330 7500 Germany 49 69 9204 1210 Hong Kong 852 2977 6000
Japan 81 3 3201 8900      Singapore 65 6212 1000       U.S. 1 212 318 2000      Copyright 2014 Bloomberg Finance L.P.
                                                              SN 269893 CEST GMT+2:00 G481-690-3 15-Apr-2014 17:08:09</div>
</body></html>
